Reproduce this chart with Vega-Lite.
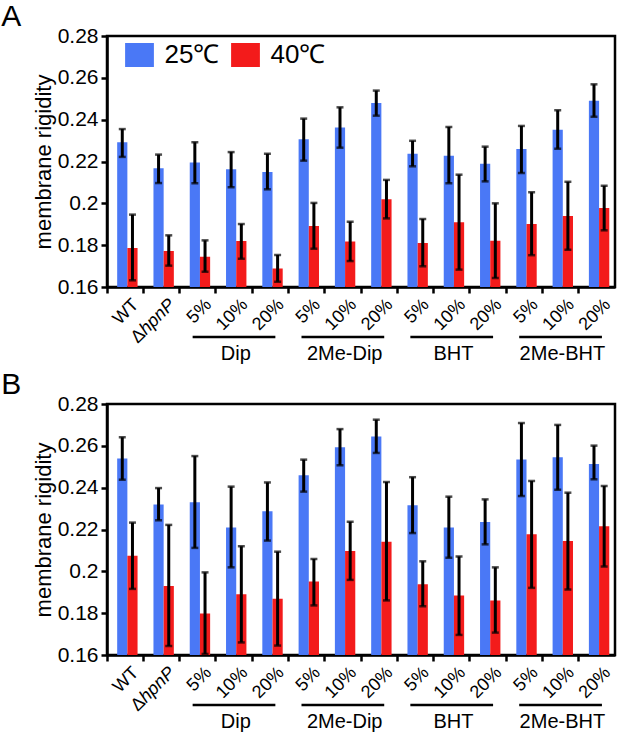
{
  "$schema": "https://vega.github.io/schema/vega-lite/v6.json",
  "background": "#ffffff",
  "padding": {"left": -1, "top": 0, "right": 2, "bottom": 0},
  "spacing": 2,
  "config": {
    "font": "Liberation Sans",
    "view": {"stroke": "#000000", "strokeWidth": 2.5},
    "axis": {
      "grid": false,
      "domainColor": "#000000",
      "domainWidth": 2.5,
      "tickColor": "#000000",
      "tickWidth": 2.5,
      "tickSize": 6,
      "labelColor": "#000000",
      "titleColor": "#000000"
    },
    "axisX": {"labels": false, "bandPosition": 0},
    "axisY": {
      "values": [0.16, 0.17, 0.18, 0.19, 0.2, 0.21, 0.22, 0.23, 0.24, 0.25, 0.26, 0.27, 0.28],
      "labelExpr": "round(datum.value * 100) % 2 == 0 ? '' + round(datum.value * 100) / 100 : ''",
      "labelFontSize": 21,
      "labelPadding": 3,
      "labelOverlap": false,
      "titleFontSize": 22,
      "titleFontWeight": "normal",
      "titlePadding": 2
    },
    "title": {"fontSize": 30, "fontWeight": "normal", "color": "#000000", "anchor": "start", "frame": "bounds", "dx": -31, "offset": -7}
  },
  "datasets": {
    "a": [
      {"cat": "WT", "temp": "25℃", "mean": 0.2292, "lo": 0.2222, "hi": 0.2355},
      {"cat": "WT", "temp": "40℃", "mean": 0.1786, "lo": 0.1632, "hi": 0.1946},
      {"cat": "ΔhpnP", "temp": "25℃", "mean": 0.2168, "lo": 0.2097, "hi": 0.2233},
      {"cat": "ΔhpnP", "temp": "40℃", "mean": 0.1772, "lo": 0.1702, "hi": 0.1847},
      {"cat": "Dip 5%", "temp": "25℃", "mean": 0.2195, "lo": 0.2096, "hi": 0.2292},
      {"cat": "Dip 5%", "temp": "40℃", "mean": 0.1745, "lo": 0.1673, "hi": 0.1823},
      {"cat": "Dip 10%", "temp": "25℃", "mean": 0.2163, "lo": 0.2077, "hi": 0.2245},
      {"cat": "Dip 10%", "temp": "40℃", "mean": 0.182, "lo": 0.1735, "hi": 0.1901},
      {"cat": "Dip 20%", "temp": "25℃", "mean": 0.215, "lo": 0.2067, "hi": 0.2237},
      {"cat": "Dip 20%", "temp": "40℃", "mean": 0.1688, "lo": 0.1625, "hi": 0.1753},
      {"cat": "2Me-Dip 5%", "temp": "25℃", "mean": 0.2306, "lo": 0.2204, "hi": 0.2405},
      {"cat": "2Me-Dip 5%", "temp": "40℃", "mean": 0.1892, "lo": 0.1783, "hi": 0.2002},
      {"cat": "2Me-Dip 10%", "temp": "25℃", "mean": 0.2362, "lo": 0.2266, "hi": 0.2459},
      {"cat": "2Me-Dip 10%", "temp": "40℃", "mean": 0.1818, "lo": 0.1724, "hi": 0.1912},
      {"cat": "2Me-Dip 20%", "temp": "25℃", "mean": 0.248, "lo": 0.2419, "hi": 0.2539},
      {"cat": "2Me-Dip 20%", "temp": "40℃", "mean": 0.2019, "lo": 0.1928, "hi": 0.2112},
      {"cat": "BHT 5%", "temp": "25℃", "mean": 0.2237, "lo": 0.2177, "hi": 0.2299},
      {"cat": "BHT 5%", "temp": "40℃", "mean": 0.181, "lo": 0.1699, "hi": 0.1925},
      {"cat": "BHT 10%", "temp": "25℃", "mean": 0.2228, "lo": 0.2096, "hi": 0.2365},
      {"cat": "BHT 10%", "temp": "40℃", "mean": 0.1909, "lo": 0.1683, "hi": 0.2137},
      {"cat": "BHT 20%", "temp": "25℃", "mean": 0.2189, "lo": 0.2105, "hi": 0.2271},
      {"cat": "BHT 20%", "temp": "40℃", "mean": 0.1821, "lo": 0.1643, "hi": 0.2},
      {"cat": "2Me-BHT 5%", "temp": "25℃", "mean": 0.226, "lo": 0.2145, "hi": 0.237},
      {"cat": "2Me-BHT 5%", "temp": "40℃", "mean": 0.1901, "lo": 0.1752, "hi": 0.2053},
      {"cat": "2Me-BHT 10%", "temp": "25℃", "mean": 0.2352, "lo": 0.2261, "hi": 0.2445},
      {"cat": "2Me-BHT 10%", "temp": "40℃", "mean": 0.1939, "lo": 0.1778, "hi": 0.2103},
      {"cat": "2Me-BHT 20%", "temp": "25℃", "mean": 0.2491, "lo": 0.2414, "hi": 0.2569},
      {"cat": "2Me-BHT 20%", "temp": "40℃", "mean": 0.1978, "lo": 0.1871, "hi": 0.2084}
    ],
    "b": [
      {"cat": "WT", "temp": "25℃", "mean": 0.254, "lo": 0.2438, "hi": 0.2641},
      {"cat": "WT", "temp": "40℃", "mean": 0.2075, "lo": 0.1916, "hi": 0.2233},
      {"cat": "ΔhpnP", "temp": "25℃", "mean": 0.232, "lo": 0.2244, "hi": 0.2398},
      {"cat": "ΔhpnP", "temp": "40℃", "mean": 0.193, "lo": 0.1643, "hi": 0.2222},
      {"cat": "Dip 5%", "temp": "25℃", "mean": 0.233, "lo": 0.2112, "hi": 0.2551},
      {"cat": "Dip 5%", "temp": "40℃", "mean": 0.1799, "lo": 0.1605, "hi": 0.1995},
      {"cat": "Dip 10%", "temp": "25℃", "mean": 0.221, "lo": 0.2019, "hi": 0.2405},
      {"cat": "Dip 10%", "temp": "40℃", "mean": 0.189, "lo": 0.166, "hi": 0.212},
      {"cat": "Dip 20%", "temp": "25℃", "mean": 0.2287, "lo": 0.2147, "hi": 0.2425},
      {"cat": "Dip 20%", "temp": "40℃", "mean": 0.1869, "lo": 0.1645, "hi": 0.2094},
      {"cat": "2Me-Dip 5%", "temp": "25℃", "mean": 0.2459, "lo": 0.2381, "hi": 0.2534},
      {"cat": "2Me-Dip 5%", "temp": "40℃", "mean": 0.1951, "lo": 0.1837, "hi": 0.2059},
      {"cat": "2Me-Dip 10%", "temp": "25℃", "mean": 0.2593, "lo": 0.2507, "hi": 0.268},
      {"cat": "2Me-Dip 10%", "temp": "40℃", "mean": 0.2097, "lo": 0.1959, "hi": 0.2237},
      {"cat": "2Me-Dip 20%", "temp": "25℃", "mean": 0.2645, "lo": 0.2566, "hi": 0.2725},
      {"cat": "2Me-Dip 20%", "temp": "40℃", "mean": 0.2142, "lo": 0.1861, "hi": 0.2427},
      {"cat": "BHT 5%", "temp": "25℃", "mean": 0.2316, "lo": 0.2183, "hi": 0.245},
      {"cat": "BHT 5%", "temp": "40℃", "mean": 0.1938, "lo": 0.1833, "hi": 0.2048},
      {"cat": "BHT 10%", "temp": "25℃", "mean": 0.221, "lo": 0.2065, "hi": 0.2357},
      {"cat": "BHT 10%", "temp": "40℃", "mean": 0.1884, "lo": 0.1696, "hi": 0.2071},
      {"cat": "BHT 20%", "temp": "25℃", "mean": 0.2236, "lo": 0.2129, "hi": 0.2344},
      {"cat": "BHT 20%", "temp": "40℃", "mean": 0.1861, "lo": 0.1707, "hi": 0.2019},
      {"cat": "2Me-BHT 5%", "temp": "25℃", "mean": 0.2535, "lo": 0.236, "hi": 0.2709},
      {"cat": "2Me-BHT 5%", "temp": "40℃", "mean": 0.2177, "lo": 0.1921, "hi": 0.2432},
      {"cat": "2Me-BHT 10%", "temp": "25℃", "mean": 0.2545, "lo": 0.239, "hi": 0.27},
      {"cat": "2Me-BHT 10%", "temp": "40℃", "mean": 0.2145, "lo": 0.1913, "hi": 0.2376},
      {"cat": "2Me-BHT 20%", "temp": "25℃", "mean": 0.2513, "lo": 0.244, "hi": 0.2601},
      {"cat": "2Me-BHT 20%", "temp": "40℃", "mean": 0.2216, "lo": 0.2023, "hi": 0.2408}
    ],
    "labels": [
      {"cat": "WT", "label": "WT", "style": "plain"},
      {"cat": "ΔhpnP", "label": "hpnP", "style": "italic"},
      {"cat": "ΔhpnP", "label": "Δ", "style": "delta"},
      {"cat": "Dip 5%", "label": "5%", "style": "plain"},
      {"cat": "Dip 10%", "label": "10%", "style": "plain"},
      {"cat": "Dip 20%", "label": "20%", "style": "plain"},
      {"cat": "2Me-Dip 5%", "label": "5%", "style": "plain"},
      {"cat": "2Me-Dip 10%", "label": "10%", "style": "plain"},
      {"cat": "2Me-Dip 20%", "label": "20%", "style": "plain"},
      {"cat": "BHT 5%", "label": "5%", "style": "plain"},
      {"cat": "BHT 10%", "label": "10%", "style": "plain"},
      {"cat": "BHT 20%", "label": "20%", "style": "plain"},
      {"cat": "2Me-BHT 5%", "label": "5%", "style": "plain"},
      {"cat": "2Me-BHT 10%", "label": "10%", "style": "plain"},
      {"cat": "2Me-BHT 20%", "label": "20%", "style": "plain"}
    ],
    "groups": [
      {"name": "Dip", "first": "Dip 5%", "mid": "Dip 10%", "last": "Dip 20%"},
      {"name": "2Me-Dip", "first": "2Me-Dip 5%", "mid": "2Me-Dip 10%", "last": "2Me-Dip 20%"},
      {"name": "BHT", "first": "BHT 5%", "mid": "BHT 10%", "last": "BHT 20%"},
      {"name": "2Me-BHT", "first": "2Me-BHT 5%", "mid": "2Me-BHT 10%", "last": "2Me-BHT 20%"}
    ]
  },
  "vconcat": [
    {
      "title": {"text": "A"},
      "width": 508,
      "height": 251,
      "layer": [
        {
          "data": {"name": "a"},
          "mark": {"type": "bar", "clip": true},
          "encoding": {
            "x": {"field": "cat", "type": "nominal", "title": null,
              "scale": {"domain": ["WT", "ΔhpnP", "Dip 5%", "Dip 10%", "Dip 20%", "2Me-Dip 5%", "2Me-Dip 10%", "2Me-Dip 20%", "BHT 5%", "BHT 10%", "BHT 20%", "2Me-BHT 5%", "2Me-BHT 10%", "2Me-BHT 20%"], "paddingInner": 0, "paddingOuter": 0}},
            "xOffset": {"field": "temp", "type": "nominal", "scale": {"domain": ["25℃", "40℃"], "paddingInner": 0, "paddingOuter": 0.78, "align": 0.64}},
            "y": {"field": "mean", "type": "quantitative", "title": "membrane rigidity", "scale": {"domain": [0.16, 0.28], "nice": false, "zero": false}},
            "color": {"field": "temp", "type": "nominal",
              "scale": {"domain": ["25℃", "40℃"], "range": ["#4a78f6", "#f31b1b"]},
              "legend": {"title": null, "orient": "none", "legendX": 19.5, "legendY": 6, "direction": "horizontal", "padding": 0,
                "symbolType": "M-1.2,-1H1.2V1H-1.2Z", "symbolSize": 576, "symbolStrokeWidth": 0, "symbolOpacity": 1,
                "labelFontSize": 26, "labelOffset": 12, "columnPadding": 11, "labelColor": "#000000"}}
          }
        },
        {
          "data": {"name": "a"},
          "mark": {"type": "rule", "color": "#000000", "strokeWidth": 3},
          "encoding": {
            "x": {"field": "cat", "type": "nominal", "title": null},
            "xOffset": {"field": "temp", "type": "nominal"},
            "y": {"field": "lo", "type": "quantitative", "title": "membrane rigidity"},
            "y2": {"field": "hi"}
          }
        },
        {
          "data": {"name": "a"},
          "mark": {"type": "tick", "orient": "horizontal", "color": "#000000", "size": 7, "thickness": 2.5},
          "encoding": {
            "x": {"field": "cat", "type": "nominal", "title": null},
            "xOffset": {"field": "temp", "type": "nominal"},
            "y": {"field": "lo", "type": "quantitative", "title": "membrane rigidity"}
          }
        },
        {
          "data": {"name": "a"},
          "mark": {"type": "tick", "orient": "horizontal", "color": "#000000", "size": 7, "thickness": 2.5},
          "encoding": {
            "x": {"field": "cat", "type": "nominal", "title": null},
            "xOffset": {"field": "temp", "type": "nominal"},
            "y": {"field": "hi", "type": "quantitative", "title": "membrane rigidity"}
          }
        },
        {
          "data": {"name": "labels"},
          "transform": [{"filter": "datum.style == 'plain'"}],
          "mark": {"type": "text", "angle": 315, "align": "right", "baseline": "middle", "fontSize": 18, "dx": -3, "dy": 18.5, "color": "#000000"},
          "encoding": {
            "x": {"field": "cat", "type": "nominal", "title": null},
            "y": {"datum": 0.16, "type": "quantitative"},
            "text": {"field": "label"}
          }
        },
        {
          "data": {"name": "labels"},
          "transform": [{"filter": "datum.style == 'italic'"}],
          "mark": {"type": "text", "angle": 315, "align": "right", "baseline": "middle", "fontSize": 18, "fontStyle": "italic", "dx": -3, "dy": 18.5, "color": "#000000"},
          "encoding": {
            "x": {"field": "cat", "type": "nominal", "title": null},
            "y": {"datum": 0.16, "type": "quantitative"},
            "text": {"field": "label"}
          }
        },
        {
          "data": {"name": "labels"},
          "transform": [{"filter": "datum.style == 'delta'"}],
          "mark": {"type": "text", "angle": 315, "align": "right", "baseline": "middle", "fontSize": 18, "dx": -45, "dy": 18.5, "color": "#000000"},
          "encoding": {
            "x": {"field": "cat", "type": "nominal", "title": null},
            "y": {"datum": 0.16, "type": "quantitative"},
            "text": {"field": "label"}
          }
        },
        {
          "data": {"name": "groups"},
          "mark": {"type": "rule", "color": "#000000", "strokeWidth": 2.5},
          "encoding": {
            "x": {"field": "first", "type": "nominal", "title": null, "bandPosition": 0.36},
            "x2": {"field": "last", "bandPosition": 0.64},
            "y": {"datum": 0.1361, "type": "quantitative"}
          }
        },
        {
          "data": {"name": "groups"},
          "mark": {"type": "text", "align": "center", "baseline": "alphabetic", "fontSize": 20, "color": "#000000"},
          "encoding": {
            "x": {"field": "mid", "type": "nominal", "title": null, "bandPosition": 0.55},
            "y": {"datum": 0.1251, "type": "quantitative"},
            "text": {"field": "name"}
          }
        }
      ]
    },
    {
      "title": {"text": "B"},
      "width": 508,
      "height": 251,
      "layer": [
        {
          "data": {"name": "b"},
          "mark": {"type": "bar", "clip": true},
          "encoding": {
            "x": {"field": "cat", "type": "nominal", "title": null,
              "scale": {"domain": ["WT", "ΔhpnP", "Dip 5%", "Dip 10%", "Dip 20%", "2Me-Dip 5%", "2Me-Dip 10%", "2Me-Dip 20%", "BHT 5%", "BHT 10%", "BHT 20%", "2Me-BHT 5%", "2Me-BHT 10%", "2Me-BHT 20%"], "paddingInner": 0, "paddingOuter": 0}},
            "xOffset": {"field": "temp", "type": "nominal", "scale": {"domain": ["25℃", "40℃"], "paddingInner": 0, "paddingOuter": 0.78, "align": 0.64}},
            "y": {"field": "mean", "type": "quantitative", "title": "membrane rigidity", "scale": {"domain": [0.16, 0.28], "nice": false, "zero": false}},
            "color": {"field": "temp", "type": "nominal",
              "scale": {"domain": ["25℃", "40℃"], "range": ["#4a78f6", "#f31b1b"]},
              "legend": {"title": null, "orient": "none", "legendX": 19.5, "legendY": 6, "direction": "horizontal", "padding": 0,
                "symbolType": "M-1.2,-1H1.2V1H-1.2Z", "symbolSize": 576, "symbolStrokeWidth": 0, "symbolOpacity": 1,
                "labelFontSize": 26, "labelOffset": 12, "columnPadding": 11, "labelColor": "#000000"}}
          }
        },
        {
          "data": {"name": "b"},
          "mark": {"type": "rule", "color": "#000000", "strokeWidth": 3},
          "encoding": {
            "x": {"field": "cat", "type": "nominal", "title": null},
            "xOffset": {"field": "temp", "type": "nominal"},
            "y": {"field": "lo", "type": "quantitative", "title": "membrane rigidity"},
            "y2": {"field": "hi"}
          }
        },
        {
          "data": {"name": "b"},
          "mark": {"type": "tick", "orient": "horizontal", "color": "#000000", "size": 7, "thickness": 2.5},
          "encoding": {
            "x": {"field": "cat", "type": "nominal", "title": null},
            "xOffset": {"field": "temp", "type": "nominal"},
            "y": {"field": "lo", "type": "quantitative", "title": "membrane rigidity"}
          }
        },
        {
          "data": {"name": "b"},
          "mark": {"type": "tick", "orient": "horizontal", "color": "#000000", "size": 7, "thickness": 2.5},
          "encoding": {
            "x": {"field": "cat", "type": "nominal", "title": null},
            "xOffset": {"field": "temp", "type": "nominal"},
            "y": {"field": "hi", "type": "quantitative", "title": "membrane rigidity"}
          }
        },
        {
          "data": {"name": "labels"},
          "transform": [{"filter": "datum.style == 'plain'"}],
          "mark": {"type": "text", "angle": 315, "align": "right", "baseline": "middle", "fontSize": 18, "dx": -3, "dy": 18.5, "color": "#000000"},
          "encoding": {
            "x": {"field": "cat", "type": "nominal", "title": null},
            "y": {"datum": 0.16, "type": "quantitative"},
            "text": {"field": "label"}
          }
        },
        {
          "data": {"name": "labels"},
          "transform": [{"filter": "datum.style == 'italic'"}],
          "mark": {"type": "text", "angle": 315, "align": "right", "baseline": "middle", "fontSize": 18, "fontStyle": "italic", "dx": -3, "dy": 18.5, "color": "#000000"},
          "encoding": {
            "x": {"field": "cat", "type": "nominal", "title": null},
            "y": {"datum": 0.16, "type": "quantitative"},
            "text": {"field": "label"}
          }
        },
        {
          "data": {"name": "labels"},
          "transform": [{"filter": "datum.style == 'delta'"}],
          "mark": {"type": "text", "angle": 315, "align": "right", "baseline": "middle", "fontSize": 18, "dx": -45, "dy": 18.5, "color": "#000000"},
          "encoding": {
            "x": {"field": "cat", "type": "nominal", "title": null},
            "y": {"datum": 0.16, "type": "quantitative"},
            "text": {"field": "label"}
          }
        },
        {
          "data": {"name": "groups"},
          "mark": {"type": "rule", "color": "#000000", "strokeWidth": 2.5},
          "encoding": {
            "x": {"field": "first", "type": "nominal", "title": null, "bandPosition": 0.36},
            "x2": {"field": "last", "bandPosition": 0.64},
            "y": {"datum": 0.1361, "type": "quantitative"}
          }
        },
        {
          "data": {"name": "groups"},
          "mark": {"type": "text", "align": "center", "baseline": "alphabetic", "fontSize": 20, "color": "#000000"},
          "encoding": {
            "x": {"field": "mid", "type": "nominal", "title": null, "bandPosition": 0.55},
            "y": {"datum": 0.1251, "type": "quantitative"},
            "text": {"field": "name"}
          }
        }
      ]
    }
  ]
}
